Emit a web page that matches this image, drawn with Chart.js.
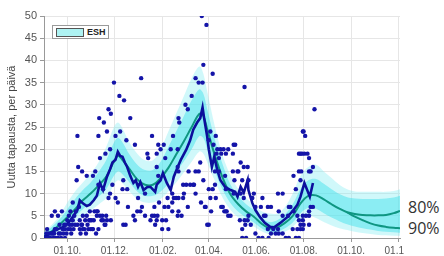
<!DOCTYPE html>
<html>
<head>
<meta charset="utf-8">
<script src="https://cdn.jsdelivr.net/npm/chart.js@4"></script>
<style>
  body { margin: 0; background: #fff; }
  #wrap { position: relative; width: 444px; height: 256px; }
  #legendBox { position: absolute; left: 52px; top: 25px; width: 55px; height: 12px; border: 1px solid #9a9a9a; background: #fff; }
  #legendBox .sw { position: absolute; left: 3px; top: 2px; width: 26px; height: 7px; background: #aef3f3; border: 1px solid #555; }
  #legendBox .tx { position: absolute; left: 34px; top: 0px; font: bold 9px "Liberation Sans", Arial, sans-serif; color: #222; line-height: 12px; }
  #pct { position: absolute; left: 404px; top: 190px; width: 40px; height: 66px; background: #fff; }
  #pct div { position: absolute; left: 4px; font: 16px "Open Sans", sans-serif; color: #333; }
</style>
</head>
<body>
<div id="wrap">
  <canvas id="chart" width="444" height="256"></canvas>
  <div id="legendBox"><div class="sw"></div><div class="tx">ESH</div></div>
  <div id="pct"><div style="top:6px">80%</div><div style="top:27px">90%</div></div>
</div>
<script>
// days counted from 1.9.2020
const tickDays = [30, 91, 153, 212, 273, 334, 395, 456];
const tickLabels = ['01.10.', '01.12.', '01.02.', '01.04.', '01.06.', '01.08.', '01.10.', '01.12.'];

// model (ESH) curve and intervals
const modelDays = [0,10,20,30,40,50,60,70,80,90,95,100,110,120,130,140,150,160,170,180,190,200,205,210,220,230,240,250,260,270,280,290,300,310,320,330,340,350,360,370,380,390,400,410,420,430,440,450,458];
const median80 = [0.5,1.5,3,4.7,6.5,8.5,10,11.8,13.8,17.2,18.5,17.8,15.5,13.2,12,12,13.5,15.8,18.8,21.8,25,28,27.5,24.5,18.5,13.5,9.8,7.6,6,4.8,3.2,2.2,2.4,3.4,5,7.8,9.5,9.6,8.7,7.6,6.6,5.8,5.4,5.2,5.1,5.1,5.2,5.6,6.1];
const outerHi = [1.5,3,5,8,10.5,12.5,14.5,17,20.5,25,26,25,21.5,19,17.5,17.5,20,24,28,32,36,38.6,37,33,25,18.5,14,11,9,7.5,6,5.5,5.5,7,10,14,16,16.5,15,13.5,12,11,10.5,10.4,10.4,10.4,10.4,10.6,11];
const innerHi = [1,2.5,4.2,6.5,8.8,10.8,12.5,14.8,17.5,21.5,22.5,21.8,18.8,16.5,15.3,15.3,17.2,20.5,24,27.5,31,33.5,32.5,29,22,16.5,12,9.5,7.6,6.3,4.7,3.6,4,5.3,7.6,11,13,13.3,12.2,11,9.9,9.2,8.9,8.8,8.8,8.8,8.9,9.1,9.5];
const innerLo = [0,0.8,2,3.3,4.8,6.5,7.8,9.3,11,14,15,14.5,12.5,10.5,9.5,9.5,10.5,12.3,14.8,17.3,20,23,22.5,20,15,10.8,7.8,5.9,4.6,3.5,2.2,1.3,1.4,2.2,3.5,5.6,6.8,6.6,5.6,4.6,3.8,3.1,2.6,2.2,1.9,1.6,1.4,1.3,1.2];
const outerLo = [0,0.3,1.2,2.3,3.5,5,6.2,7.5,9,12,13,12.5,10.5,8.8,8,8,8.8,10.5,12.5,14.8,17.2,19.5,19,17,12.8,9,6.3,4.6,3.5,2.6,1.5,0.8,0.8,1.4,2.5,4.2,5,4.5,3.6,2.8,2.2,1.8,1.4,1.1,0.9,0.7,0.6,0.5,0.5];
const lowerDays = [390,400,410,420,430,440,450,458];
const median90 = [5.8,4.8,4,3.3,2.8,2.5,2.3,2.2];

// observed moving average
const obsDays = [0,6,12,18,25,30,34,38,43,46,50,55,59,64,68,72,76,81,85,88,92,95,98,101,104,107,111,115,118,121,124,128,133,137,143,145,150,153,158,163,167,172,176,183,188,192,197,201,204,206,210,212,216,219,223,227,233,240,246,249,253,257,262,263,268,272,278,284,291,296,304,313,321,326,330,335,342,346];
const obsVals = [0.2,0.8,1.5,2,2.5,3.2,4,5,6.3,8.5,7.8,7.2,7.5,8.5,9.5,12.4,10.8,13.8,15.5,17,17.6,19.4,18.5,18.3,17,16,14,12.4,13,11.5,12.6,10.8,11.5,11.5,10.4,12,13,14.6,12.4,10.8,13.8,16,17.6,19.9,22,24.4,26,27,29.4,27,22.8,20,16,18.3,15.3,13,11.5,10.8,10.4,9.3,11.5,10.2,13,10.8,7.9,6.3,4.7,3.4,2.5,2.4,3.4,4.7,6.3,7.5,9.3,12.4,9.3,12.4];

// daily new cases [day, count]
const dailyCases = [
  [1,0],[2,0],[3,1],[4,2],[5,0],[6,1],[8,0],[9,1],[10,5],[11,1],[12,0],[13,1],[14,6],[14,2],[15,0],[16,2],[17,0],[18,5],[18,0],[19,1],
  [20,3],[21,1],[22,0],[23,6],[24,2],[25,1],[26,3],[27,0],[27,2],[28,3],[29,1],[30,4],[31,2],[32,5],[33,3],[34,6],[34,2],[35,1],[36,3],[37,8],
  [37,4],[38,2],[39,5],[40,3],[41,6],[42,13],[43,23],[43,3],[44,16],[45,7],[46,4],[46,2],[47,1],[48,3],[49,15],[49,3],[50,5],[50,2],[52,2],[53,4],
  [54,1],[55,14],[55,5],[56,3],[57,2],[58,4],[59,6],[59,4],[60,2],[61,4],[62,2],[63,14],[63,2],[64,4],[65,6],[66,15],[67,1],[68,6],[68,5],[69,6],
  [70,23],[70,12],[70,2],[71,27],[72,18],[72,5],[74,4],[75,5],[76,11],[76,4],[77,26],[78,3],[79,19],[79,3],[80,5],[81,24],[81,4],[83,29],[83,9],[85,20],
  [85,10],[86,28],[86,4],[88,12],[90,35],[92,23],[92,9],[95,8],[97,32],[98,24],[101,11],[102,13],[102,3],[103,31],[105,3],[106,22],[107,11],[108,7],[111,27],[115,5],
  [117,21],[117,4],[120,6],[121,9],[124,6],[125,36],[126,7],[130,10],[130,5],[133,19],[134,18],[137,4],[139,23],[139,5],[142,7],[142,5],[143,3],[145,19],[145,16],[145,4],
  [146,5],[147,21],[147,14],[148,8],[150,20],[152,4],[152,2],[154,21],[155,7],[156,18],[157,4],[159,9],[160,7],[160,2],[163,20],[165,10],[165,8],[165,6],[166,23],[167,9],
  [170,9],[172,20],[172,16],[172,5],[173,27],[173,15],[173,9],[173,6],[174,26],[177,5],[179,12],[179,9],[180,10],[182,30],[183,12],[185,29],[185,7],[186,15],[188,12],[190,32],
  [192,12],[193,12],[195,36],[195,15],[195,10],[199,35],[199,15],[201,17],[202,8],[203,50],[204,35],[205,39],[205,13],[207,7],[208,7],[209,48],[210,3],[212,22],[212,11],[212,3],
  [214,24],[214,9],[215,6],[217,37],[217,11],[218,21],[220,15],[220,12],[221,23],[221,9],[222,19],[223,20],[225,18],[225,15],[227,20],[228,19],[228,7],[230,7],[231,20],[232,6],
  [233,14],[234,19],[234,11],[234,6],[235,6],[237,20],[237,5],[240,5],[243,19],[243,15],[244,21],[244,10],[245,13],[246,21],[249,15],[250,15],[252,4],[253,17],[253,10],[255,13],
  [255,2],[255,0],[257,16],[257,9],[258,34],[258,4],[259,3],[260,0],[262,16],[262,4],[263,13],[263,5],[266,3],[268,9],[270,10],[272,7],[272,1],[276,0],[279,7],[281,9],
  [281,0],[283,5],[285,5],[288,7],[288,2],[289,0],[292,7],[292,1],[295,2],[298,1],[301,10],[301,2],[302,6],[302,1],[307,10],[307,5],[307,1],[311,0],[314,5],[315,7],
  [315,0],[317,7],[320,2],[321,14],[321,6],[324,11],[324,0],[326,5],[326,2],[328,19],[328,15],[328,4],[328,0],[330,19],[330,13],[330,3],[330,2],[331,15],[332,19],[333,24],
  [333,5],[333,4],[333,2],[334,24],[334,3],[335,19],[336,23],[337,5],[339,19],[341,18],[341,15],[341,6],[341,5],[341,3],[343,15],[343,7],[346,16],[346,7],[348,29]
];

const pts = (xs, ys) => xs.map((x, i) => ({ x: x, y: ys[i] }));

const ctx = document.getElementById('chart').getContext('2d');
new Chart(ctx, {
  type: 'line',
  data: {
    datasets: [
      {
        type: 'scatter',
        data: dailyCases.map(p => ({ x: p[0], y: p[1] })),
        pointRadius: 2.2,
        pointBackgroundColor: '#1414a8',
        pointBorderWidth: 0,
        order: 0
      },
      {
        data: pts(obsDays, obsVals),
        borderColor: '#0c0f9c',
        borderWidth: 2.6,
        pointRadius: 0,
        tension: 0,
        fill: false,
        order: 1
      },
      {
        data: pts(modelDays, median80),
        borderColor: '#0f9682',
        borderWidth: 2,
        pointRadius: 0,
        tension: 0.35,
        fill: false,
        order: 2
      },
      {
        data: pts(lowerDays, median90),
        borderColor: '#0f9682',
        borderWidth: 2,
        pointRadius: 0,
        tension: 0.35,
        fill: false,
        order: 2
      },
      {
        data: pts(modelDays, innerLo),
        borderWidth: 0,
        pointRadius: 0,
        tension: 0.35,
        fill: false,
        order: 3
      },
      {
        data: pts(modelDays, innerHi),
        borderWidth: 0,
        pointRadius: 0,
        tension: 0.35,
        backgroundColor: 'rgba(70,225,235,0.5)',
        fill: 4,
        order: 3
      },
      {
        data: pts(modelDays, outerLo),
        borderWidth: 0,
        pointRadius: 0,
        tension: 0.35,
        fill: false,
        order: 4
      },
      {
        data: pts(modelDays, outerHi),
        borderWidth: 0,
        pointRadius: 0,
        tension: 0.35,
        backgroundColor: 'rgba(120,235,240,0.35)',
        fill: 6,
        order: 4
      }
    ]
  },
  options: {
    responsive: false,
    devicePixelRatio: 1,
    animation: false,
    layout: { padding: { top: 16, right: 44, left: 0, bottom: 0 } },
    plugins: {
      legend: { display: false },
      tooltip: { enabled: false }
    },
    scales: {
      x: {
        type: 'linear',
        min: 0,
        max: 458,
        afterBuildTicks: s => { s.ticks = tickDays.map(v => ({ value: v })); },
        afterFit: s => { s.height = 18; },
        ticks: {
          autoSkip: false,
          maxRotation: 0,
          padding: 3,
          color: '#555',
          font: { family: '"Liberation Sans", Arial, sans-serif', size: 10 },
          callback: v => tickLabels[tickDays.indexOf(v)]
        },
        grid: { color: '#e6e6e6', tickLength: 4, tickColor: '#999' },
        border: { color: '#999' }
      },
      y: {
        min: 0,
        max: 50,
        afterFit: s => { s.width = 44; },
        ticks: {
          stepSize: 5,
          padding: 3,
          color: '#555',
          font: { family: '"Liberation Sans", Arial, sans-serif', size: 11 }
        },
        grid: { color: '#e6e6e6', tickLength: 4, tickColor: '#999' },
        border: { color: '#999' },
        title: {
          display: true,
          text: 'Uutta tapausta, per päivä',
          color: '#444',
          padding: { top: 5, bottom: 0 },
          font: { family: '"Liberation Sans", Arial, sans-serif', size: 11 }
        }
      }
    }
  }
});
</script>
</body>
</html>
